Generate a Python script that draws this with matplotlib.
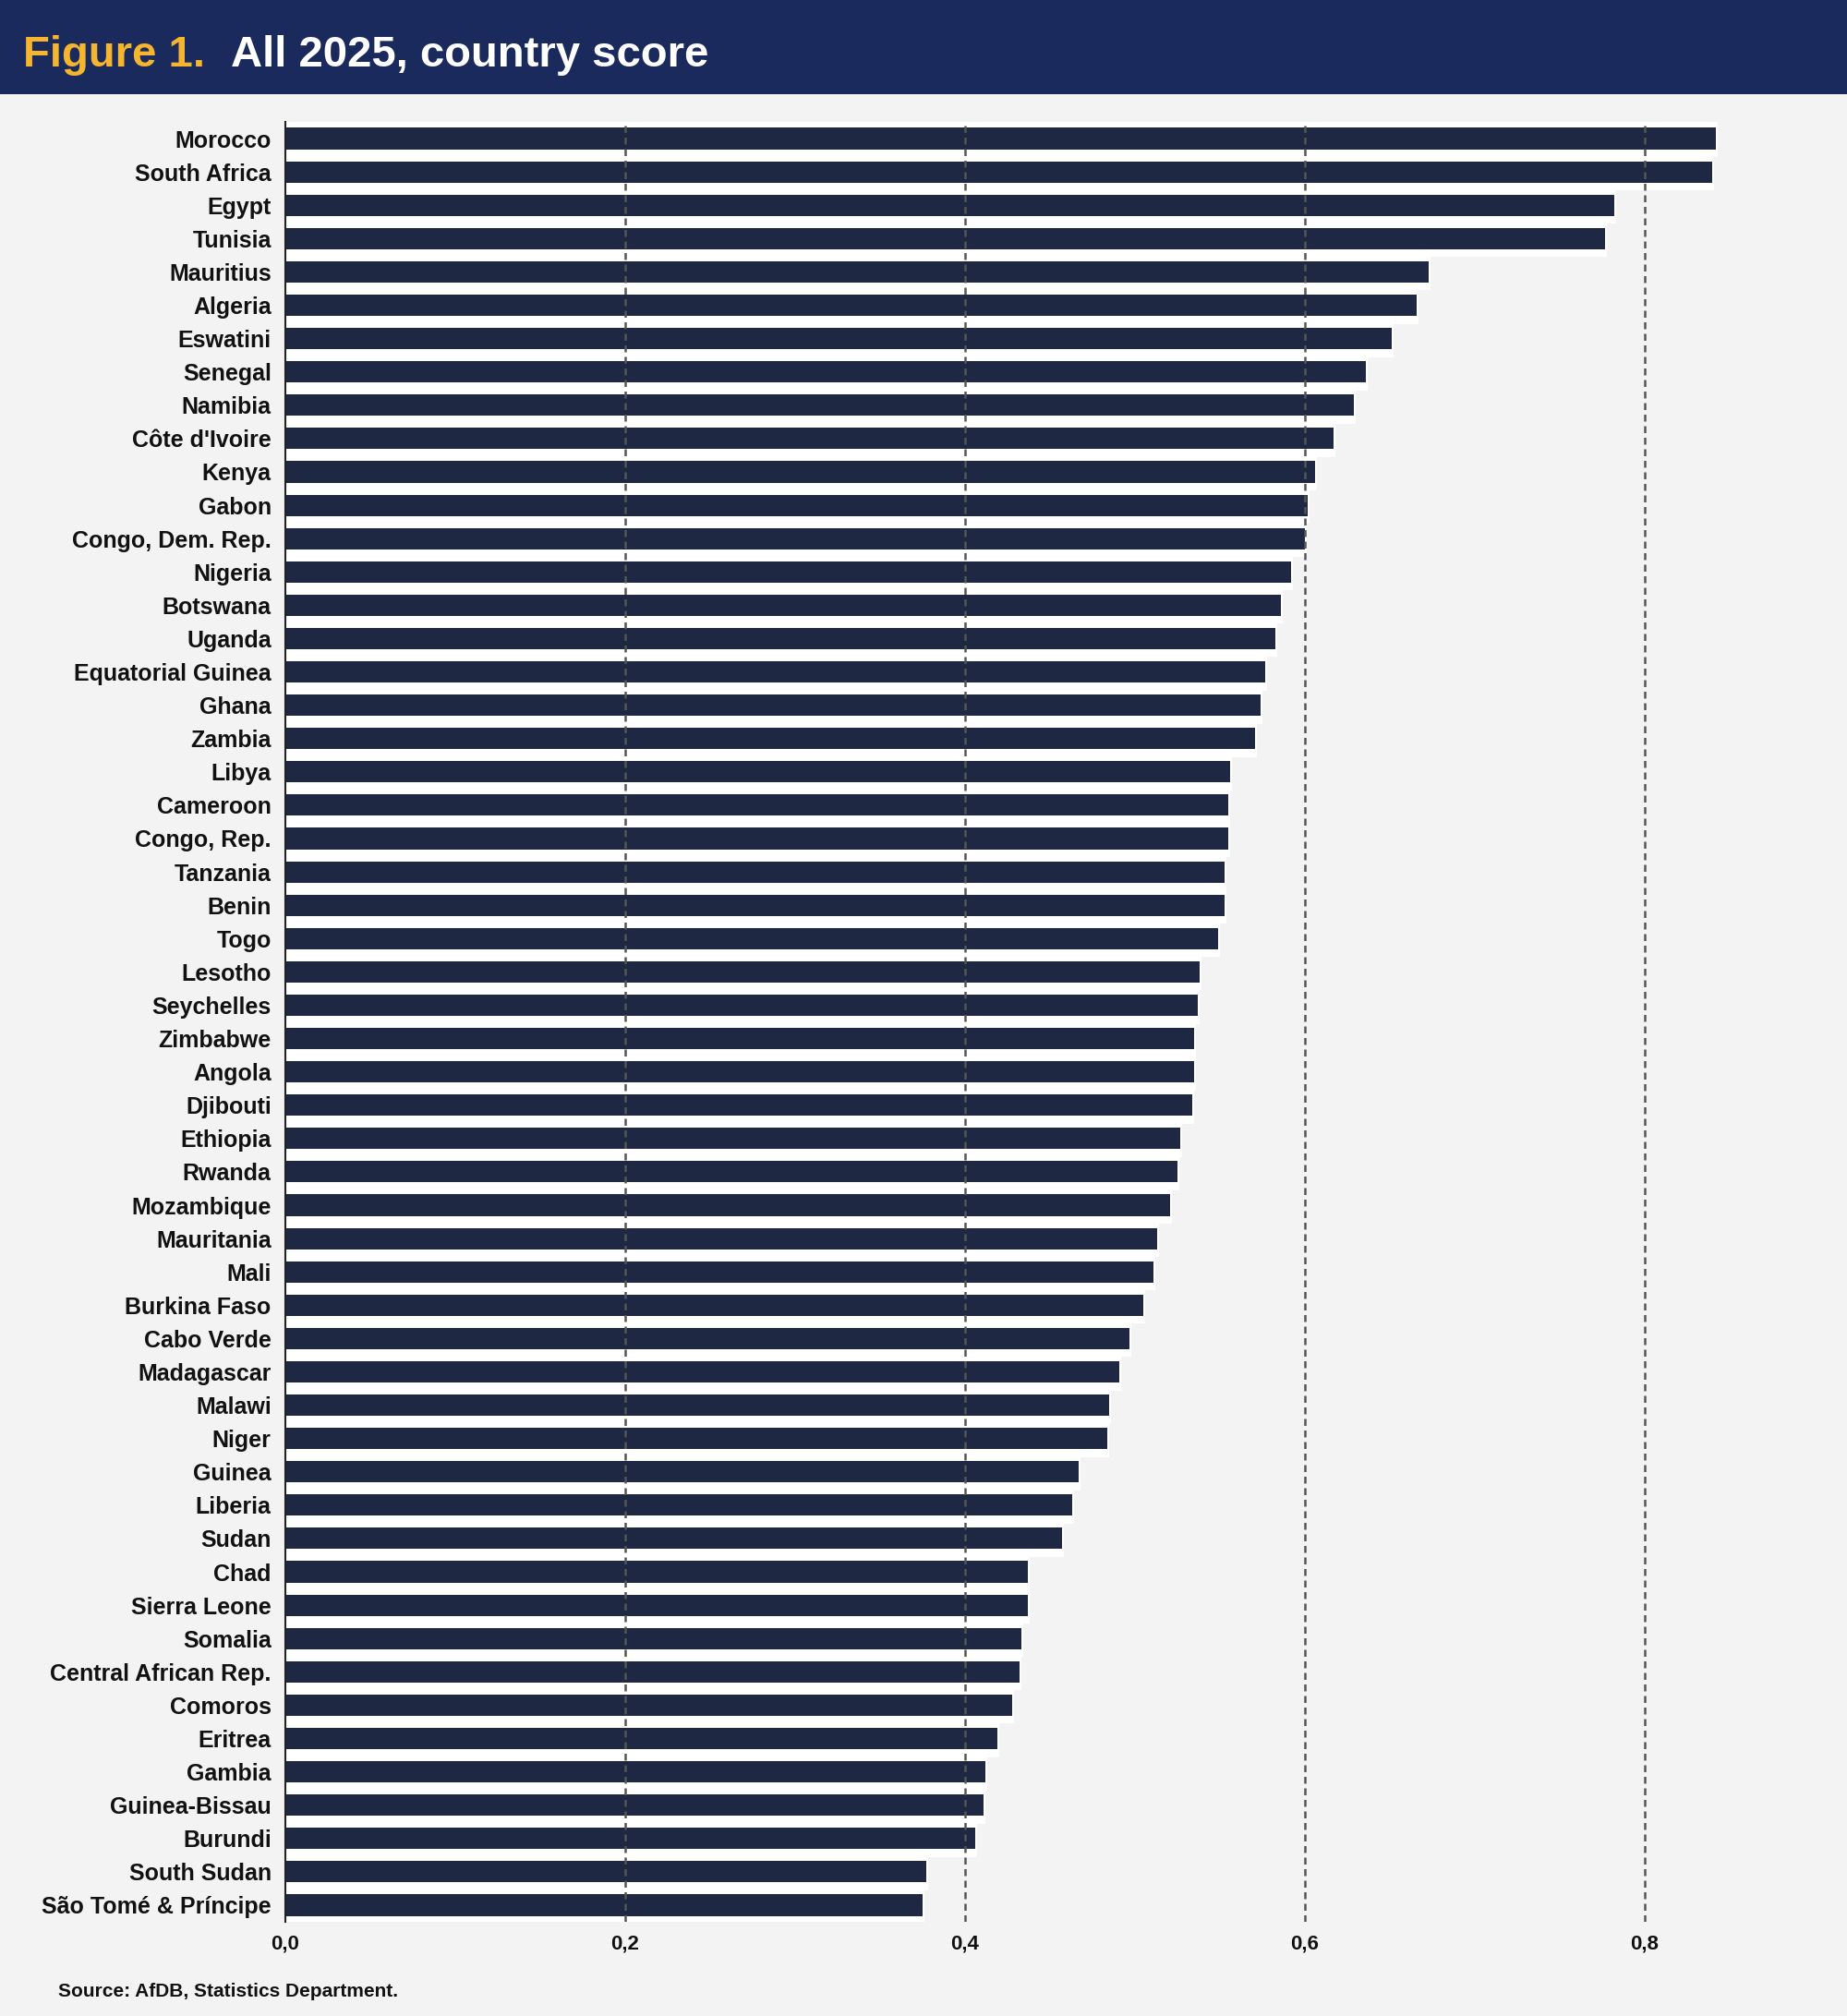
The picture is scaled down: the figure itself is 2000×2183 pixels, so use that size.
import numpy as np
import matplotlib
matplotlib.use("Agg")
import matplotlib.pyplot as plt
from matplotlib.patches import Rectangle

countries = [
    "Morocco", "South Africa", "Egypt", "Tunisia", "Mauritius", "Algeria",
    "Eswatini", "Senegal", "Namibia", "Côte d'Ivoire", "Kenya", "Gabon",
    "Congo, Dem. Rep.", "Nigeria", "Botswana", "Uganda", "Equatorial Guinea",
    "Ghana", "Zambia", "Libya", "Cameroon", "Congo, Rep.", "Tanzania", "Benin",
    "Togo", "Lesotho", "Seychelles", "Zimbabwe", "Angola", "Djibouti",
    "Ethiopia", "Rwanda", "Mozambique", "Mauritania", "Mali", "Burkina Faso",
    "Cabo Verde", "Madagascar", "Malawi", "Niger", "Guinea", "Liberia", "Sudan",
    "Chad", "Sierra Leone", "Somalia", "Central African Rep.", "Comoros",
    "Eritrea", "Gambia", "Guinea-Bissau", "Burundi", "South Sudan",
    "São Tomé & Príncipe",
]

scores = [
    0.842, 0.840, 0.782, 0.777, 0.673, 0.666,
    0.651, 0.636, 0.629, 0.617, 0.606, 0.602,
    0.600, 0.592, 0.586, 0.583, 0.577,
    0.574, 0.571, 0.556, 0.555, 0.555, 0.553, 0.553,
    0.549, 0.538, 0.537, 0.535, 0.535, 0.534,
    0.527, 0.525, 0.521, 0.513, 0.511, 0.505,
    0.497, 0.491, 0.485, 0.484, 0.467, 0.463, 0.457,
    0.437, 0.437, 0.433, 0.432, 0.428,
    0.419, 0.412, 0.411, 0.406, 0.377,
    0.375,
]

x_ticks = [0.0, 0.2, 0.4, 0.6, 0.8]
x_tick_labels = ["0,0", "0,2", "0,4", "0,6", "0,8"]

navy = "#1b2a5c"
bar_color = "#1e2842"
gold = "#f6b52e"
bg = "#f3f3f3"

W, H = 2000, 2183
fig = plt.figure(figsize=(W / 100, H / 100), dpi=100, facecolor=bg)

# header band
fig.patches.append(Rectangle((0, 1 - 102 / H), 1, 102 / H, transform=fig.transFigure,
                             facecolor=navy, edgecolor="none", zorder=0))
fig.text(25 / W, 1 - 72 / H, "Figure 1.", color=gold, fontsize=34, fontweight="bold",
         family="Liberation Sans", va="baseline")
fig.text(250 / W, 1 - 72 / H, "All 2025, country score", color="white", fontsize=34,
         fontweight="bold", family="Liberation Sans", va="baseline")

ax = fig.add_axes([309 / W, 1 - 2081 / H, 1582 / W, 1949 / H])
ax.set_facecolor(bg)

y = np.arange(len(countries))
# white halo behind each bar
ax.barh(y, scores, height=1.0, color="white", edgecolor="white", linewidth=3, zorder=1)
ax.barh(y, scores, height=0.64, color=bar_color, zorder=2)

ax.set_ylim(len(countries) - 0.5, -0.5)
ax.set_xlim(0, 0.86)
ax.set_yticks(y)
ax.set_yticklabels(countries, fontsize=18, fontweight="bold", family="Liberation Sans",
                   color="#111111")
ax.set_xticks(x_ticks)
ax.set_xticklabels(x_tick_labels, fontsize=16, fontweight="bold", family="Liberation Sans",
                   color="#111111")
ax.tick_params(axis="y", length=0, pad=11)
ax.tick_params(axis="x", length=0, pad=10)

for s in ["top", "right", "bottom"]:
    ax.spines[s].set_visible(False)
ax.spines["left"].set_color("#222222")
ax.spines["left"].set_linewidth(1.5)
ax.spines["left"].set_zorder(4)

for xv in x_ticks[1:]:
    ax.axvline(xv, color="#555555", linestyle=(0, (3, 2)), linewidth=1.8, zorder=3)

fig.text(63 / W, 1 - 2162 / H, "Source: AfDB, Statistics Department.", fontsize=15,
         fontweight="bold", family="Liberation Sans", color="#111111", va="baseline")

fig.savefig("out.png", dpi=100, facecolor=bg)
